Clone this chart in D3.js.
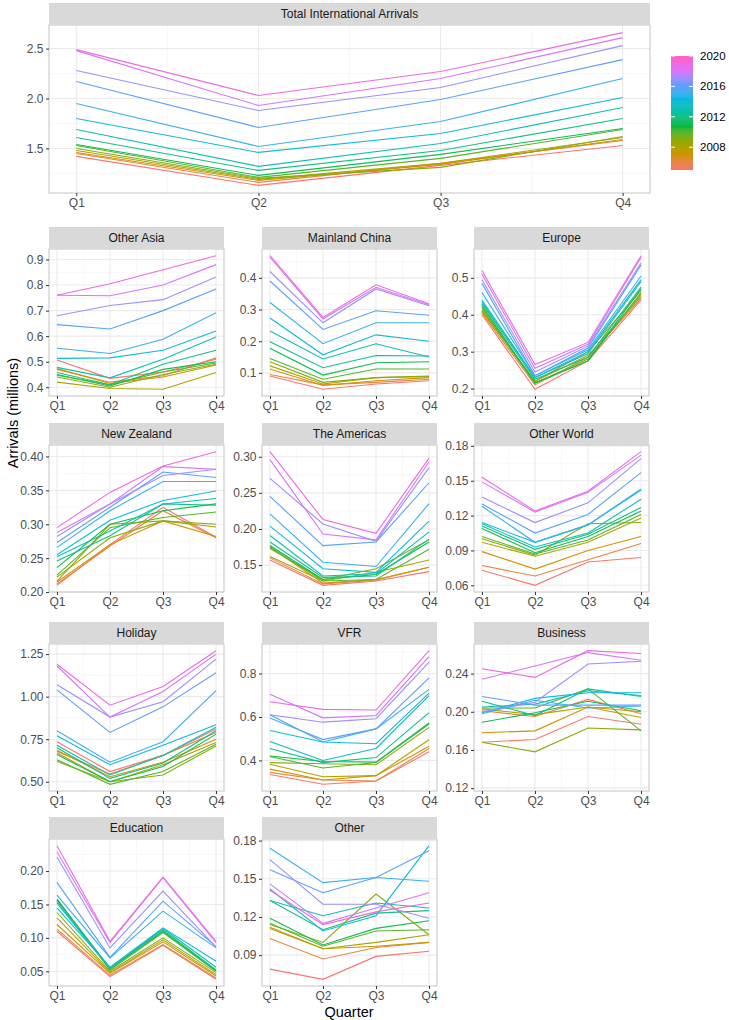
<!DOCTYPE html>
<html><head><meta charset="utf-8">
<script src="https://cdn.jsdelivr.net/npm/d3@7"></script>
<style>body{margin:0;background:#fff}text{font-family:"Liberation Sans",Arial,Helvetica,sans-serif}</style>
</head><body><svg id="c" width="729" height="1020"></svg>
<script>
const years = d3.range(2005, 2020);          // complete seasonal years drawn as lines
const colourYears = [2005, 2020];            // colour-bar range (2020 has only Q1)
const quarters = ["Q1","Q2","Q3","Q4"];
const legendTicks = [2008, 2012, 2016, 2020];

// each row = one year (2005..2019), values Q1..Q4 (millions)
const totalArrivals = [
[1.42,1.13,1.33,1.53],[1.45,1.16,1.35,1.58],[1.46,1.18,1.34,1.59],[1.48,1.19,1.35,1.61],
[1.50,1.20,1.31,1.62],[1.53,1.21,1.40,1.69],[1.54,1.23,1.44,1.70],[1.61,1.28,1.48,1.80],
[1.69,1.32,1.55,1.91],[1.80,1.46,1.65,2.01],[1.95,1.52,1.77,2.20],[2.17,1.71,1.99,2.39],
[2.28,1.88,2.11,2.53],[2.48,1.93,2.20,2.61],[2.49,2.03,2.27,2.66]];
const otherAsia = [
[0.507,0.435,0.46,0.51],[0.47,0.42,0.445,0.515],[0.473,0.415,0.44,0.487],[0.42,0.395,0.392,0.458],
[0.44,0.40,0.45,0.49],[0.447,0.41,0.46,0.495],[0.45,0.405,0.47,0.50],[0.458,0.41,0.49,0.545],
[0.478,0.437,0.51,0.597],[0.513,0.515,0.545,0.62],[0.553,0.532,0.588,0.692],[0.645,0.628,0.70,0.785],
[0.68,0.72,0.743,0.832],[0.76,0.758,0.80,0.88],[0.76,0.805,0.86,0.915]];
const mainlandChina = [
[0.09,0.048,0.065,0.075],[0.095,0.062,0.07,0.08],[0.112,0.06,0.075,0.085],[0.122,0.065,0.085,0.088],
[0.135,0.07,0.085,0.09],[0.145,0.08,0.112,0.112],[0.178,0.093,0.132,0.135],[0.198,0.116,0.155,0.153],
[0.232,0.144,0.192,0.15],[0.273,0.157,0.22,0.20],[0.322,0.192,0.258,0.258],[0.39,0.237,0.296,0.282],
[0.42,0.258,0.365,0.312],[0.465,0.27,0.37,0.315],[0.47,0.275,0.378,0.318]];
const europe = [
[0.40,0.198,0.275,0.44],[0.405,0.21,0.285,0.445],[0.41,0.22,0.30,0.465],[0.41,0.22,0.29,0.45],
[0.415,0.215,0.28,0.455],[0.42,0.215,0.275,0.46],[0.425,0.215,0.275,0.47],[0.43,0.225,0.285,0.475],
[0.435,0.23,0.295,0.49],[0.44,0.23,0.30,0.495],[0.46,0.235,0.305,0.505],[0.485,0.235,0.31,0.535],
[0.495,0.245,0.315,0.54],[0.51,0.255,0.32,0.555],[0.52,0.265,0.325,0.56]];
const newZealand = [
[0.21,0.27,0.325,0.281],[0.212,0.268,0.32,0.28],[0.215,0.27,0.305,0.282],[0.216,0.30,0.305,0.296],
[0.222,0.28,0.305,0.30],[0.225,0.295,0.31,0.318],[0.236,0.30,0.32,0.33],[0.246,0.283,0.33,0.328],
[0.252,0.29,0.33,0.338],[0.255,0.306,0.335,0.349],[0.266,0.32,0.363,0.363],[0.273,0.325,0.377,0.369],
[0.282,0.33,0.372,0.381],[0.288,0.33,0.385,0.381],[0.295,0.347,0.386,0.407]];
const theAmericas = [
[0.157,0.122,0.128,0.141],[0.16,0.124,0.129,0.147],[0.175,0.125,0.13,0.147],[0.162,0.128,0.14,0.157],
[0.173,0.13,0.145,0.185],[0.175,0.128,0.13,0.172],[0.177,0.13,0.137,0.182],[0.182,0.133,0.135,0.186],
[0.191,0.135,0.138,0.196],[0.204,0.145,0.14,0.211],[0.221,0.154,0.148,0.235],[0.245,0.177,0.182,0.264],
[0.27,0.207,0.183,0.285],[0.296,0.193,0.185,0.293],[0.307,0.213,0.194,0.298]];
const otherWorld = [
[0.073,0.060,0.080,0.084],[0.077,0.068,0.082,0.096],[0.089,0.074,0.090,0.102],[0.097,0.085,0.097,0.118],
[0.100,0.086,0.113,0.114],[0.102,0.087,0.099,0.121],[0.109,0.088,0.102,0.124],[0.111,0.091,0.104,0.127],
[0.113,0.093,0.105,0.134],[0.114,0.097,0.112,0.142],[0.128,0.097,0.112,0.143],[0.130,0.105,0.121,0.157],
[0.136,0.114,0.131,0.169],[0.149,0.123,0.140,0.172],[0.153,0.124,0.141,0.175]];
const holiday = [
[0.735,0.56,0.655,0.81],[0.68,0.545,0.655,0.79],[0.685,0.53,0.615,0.75],[0.67,0.50,0.60,0.73],
[0.62,0.50,0.54,0.71],[0.63,0.485,0.56,0.72],[0.66,0.50,0.59,0.78],[0.70,0.52,0.61,0.80],
[0.715,0.54,0.655,0.82],[0.77,0.60,0.715,0.835],[0.80,0.615,0.735,1.035],[1.04,0.79,0.94,1.14],
[1.07,0.88,0.97,1.22],[1.18,0.88,1.03,1.25],[1.19,0.95,1.06,1.27]];
const vfr = [
[0.335,0.29,0.305,0.44],[0.345,0.31,0.305,0.455],[0.36,0.31,0.33,0.465],[0.382,0.325,0.33,0.495],
[0.39,0.385,0.38,0.552],[0.418,0.365,0.39,0.567],[0.42,0.395,0.392,0.572],[0.455,0.39,0.413,0.62],
[0.487,0.40,0.455,0.698],[0.538,0.485,0.477,0.71],[0.61,0.485,0.545,0.727],[0.595,0.496,0.545,0.78],
[0.61,0.576,0.592,0.852],[0.705,0.596,0.607,0.878],[0.67,0.635,0.632,0.905]];
const business = [
[0.168,0.171,0.195,0.187],[0.201,0.195,0.213,0.198],[0.178,0.180,0.205,0.194],[0.203,0.197,0.205,0.200],
[0.168,0.158,0.183,0.181],[0.204,0.204,0.224,0.180],[0.189,0.199,0.211,0.201],[0.211,0.196,0.224,0.216],
[0.205,0.208,0.222,0.217],[0.199,0.214,0.220,0.220],[0.198,0.212,0.204,0.206],[0.216,0.207,0.207,0.207],
[0.200,0.210,0.250,0.253],[0.234,0.248,0.262,0.254],[0.245,0.236,0.264,0.261]];
const education = [
[0.11,0.042,0.089,0.038],[0.113,0.044,0.09,0.04],[0.12,0.047,0.094,0.043],[0.13,0.048,0.097,0.045],
[0.138,0.05,0.10,0.048],[0.157,0.052,0.108,0.05],[0.158,0.054,0.11,0.051],[0.155,0.055,0.112,0.052],
[0.152,0.054,0.114,0.056],[0.145,0.056,0.115,0.065],[0.164,0.07,0.14,0.085],[0.183,0.071,0.155,0.087],
[0.221,0.085,0.17,0.086],[0.229,0.093,0.19,0.093],[0.238,0.095,0.191,0.095]];
const otherPurpose = [
[0.079,0.071,0.089,0.093],[0.103,0.087,0.096,0.100],[0.111,0.095,0.097,0.100],[0.112,0.095,0.100,0.106],
[0.114,0.100,0.138,0.106],[0.115,0.097,0.109,0.110],[0.119,0.098,0.111,0.117],[0.133,0.110,0.123,0.125],
[0.133,0.121,0.131,0.127],[0.142,0.109,0.121,0.176],[0.174,0.147,0.151,0.148],[0.157,0.139,0.151,0.172],
[0.165,0.130,0.130,0.119],[0.146,0.115,0.127,0.139],[0.141,0.114,0.124,0.131]];
// 2020 has a single Q1 observation (no line drawn); only the Business one falls outside the lines' range
const partial2020Q1 = {"Business": 0.124};

const tickTotal = ["1.5","2.0","2.5"];
const tickOtherAsia = ["0.4","0.5","0.6","0.7","0.8","0.9"];
const tickChina = ["0.1","0.2","0.3","0.4"];
const tickEurope = ["0.2","0.3","0.4","0.5"];
const tickNZ = ["0.20","0.25","0.30","0.35","0.40"];
const tickAmericas = ["0.15","0.20","0.25","0.30"];
const tickOtherWorld = ["0.06","0.09","0.12","0.15","0.18"];
const tickHoliday = ["0.50","0.75","1.00","1.25"];
const tickVFR = ["0.4","0.6","0.8"];
const tickBusiness = ["0.12","0.16","0.20","0.24"];
const tickEducation = ["0.05","0.10","0.15","0.20"];
const tickOther = ["0.09","0.12","0.15","0.18"];

const small = [
 ["Other Asia", otherAsia, tickOtherAsia],
 ["Mainland China", mainlandChina, tickChina],
 ["Europe", europe, tickEurope],
 ["New Zealand", newZealand, tickNZ],
 ["The Americas", theAmericas, tickAmericas],
 ["Other World", otherWorld, tickOtherWorld],
 ["Holiday", holiday, tickHoliday],
 ["VFR", vfr, tickVFR],
 ["Business", business, tickBusiness],
 ["Education", education, tickEducation],
 ["Other", otherPurpose, tickOther]
];

const hues = ["#F8766D","#D39200","#93AA00","#00BA38","#00C19F","#00B9E3","#619CFF","#DB72FB","#FF61C3"];
const [yMin, yMax] = colourYears;
const color = d3.scaleLinear()
  .domain(hues.map((_, i) => yMin + (yMax - yMin) * i / (hues.length - 1)))
  .range(hues).interpolate(d3.interpolateLab);

const svg = d3.select("#c");
const FS = 12;

function drawPanel(x0, x1, sy, sh, bottom, title, data, tickLabels) {
  const py0 = sy + sh;
  const all = data.flat();
  if (partial2020Q1[title] !== undefined) all.push(partial2020Q1[title]);
  const [mn, mx] = d3.extent(all), r = mx - mn;
  const y = d3.scaleLinear().domain([mn - 0.05 * r, mx + 0.05 * r]).range([bottom, py0]);
  const x = d3.scaleLinear().domain([0.85, 4.15]).range([x0, x1]);
  const g = svg.append("g");
  const tv = tickLabels.map(Number);
  const step = tv[1] - tv[0];
  g.append("rect").attr("x", x0).attr("y", py0).attr("width", x1 - x0).attr("height", bottom - py0).attr("fill", "#fff");
  const [d0, d1] = y.domain();
  const minors = [];
  for (let v = tv[0] - step / 2; v <= d1; v += step) if (v >= d0) minors.push(v);
  g.selectAll(".mny").data(minors).join("line")
    .attr("x1", x0).attr("x2", x1).attr("y1", d => y(d)).attr("y2", d => y(d))
    .attr("stroke", "#F2F2F2").attr("stroke-width", 0.6);
  g.selectAll(".mnx").data([1.5, 2.5, 3.5]).join("line")
    .attr("y1", py0).attr("y2", bottom).attr("x1", d => x(d)).attr("x2", d => x(d))
    .attr("stroke", "#F2F2F2").attr("stroke-width", 0.6);
  g.selectAll(".mjy").data(tv).join("line")
    .attr("x1", x0).attr("x2", x1).attr("y1", d => y(d)).attr("y2", d => y(d))
    .attr("stroke", "#EBEBEB").attr("stroke-width", 1.1);
  g.selectAll(".mjx").data([1, 2, 3, 4]).join("line")
    .attr("y1", py0).attr("y2", bottom).attr("x1", d => x(d)).attr("x2", d => x(d))
    .attr("stroke", "#EBEBEB").attr("stroke-width", 1.1);
  const line = d3.line().x((d, i) => x(i + 1)).y(d => y(d));
  const series = data.map((v, i) => ({year: years[i], v}));
  if (partial2020Q1[title] !== undefined) series.push({year: 2020, v: [partial2020Q1[title]]});
  g.selectAll(".ln").data(series).join("path")
    .attr("d", d => line(d.v)).attr("fill", "none")
    .attr("stroke", d => color(d.year)).attr("stroke-width", 1.1);
  g.append("rect").attr("x", x0).attr("y", py0).attr("width", x1 - x0).attr("height", bottom - py0)
    .attr("fill", "none").attr("stroke", "#C4C4C4").attr("stroke-width", 1);
  g.append("rect").attr("x", x0).attr("y", sy).attr("width", x1 - x0).attr("height", sh).attr("fill", "#D9D9D9");
  g.append("text").attr("x", (x0 + x1) / 2).attr("y", sy + sh / 2).attr("dy", "0.35em")
    .attr("text-anchor", "middle").attr("font-size", FS).attr("fill", "#1A1A1A").text(title);
  const ay = g.append("g").attr("transform", `translate(${x0},0)`)
    .call(d3.axisLeft(y).tickValues(tv).tickSize(3).tickPadding(2.5).tickFormat((d, i) => tickLabels[i]));
  const ax = g.append("g").attr("transform", `translate(0,${bottom})`)
    .call(d3.axisBottom(x).tickValues([1, 2, 3, 4]).tickSize(3).tickPadding(2.5).tickFormat(d => quarters[d - 1]));
  [ay, ax].forEach(a => {
    a.select(".domain").remove();
    a.selectAll("line").attr("stroke", "#333").attr("stroke-width", 1);
    a.selectAll("text").attr("font-size", FS).attr("fill", "#4D4D4D").attr("font-family", '"Liberation Sans",Arial,sans-serif');
  });
}

drawPanel(49, 650, 3, 22, 193, "Total International Arrivals", totalArrivals, tickTotal);

const colX = [49, 262, 474], pw = 175;
const rowY = [227, 423, 622, 817], sh = 22, ph = 147;
small.forEach((p, i) => {
  const c = i % 3, r = Math.floor(i / 3);
  drawPanel(colX[c], colX[c] + pw, rowY[r], sh, rowY[r] + sh + ph, p[0], p[1], p[2]);
});

svg.append("text").attr("x", 349).attr("y", 1012).attr("dy", "0.35em").attr("text-anchor", "middle")
  .attr("font-size", 14.5).attr("fill", "#000").text("Quarter");
svg.append("text").attr("transform", "translate(13,413) rotate(-90)").attr("dy", "0.35em")
  .attr("text-anchor", "middle").attr("font-size", 14.5).attr("fill", "#000").text("Arrivals (millions)");

const lb = {x: 671, w: 22, top: 56, bottom: 170};
const ly = d3.scaleLinear().domain([yMin, yMax]).range([lb.bottom, lb.top]);
const defs = svg.append("defs");
const grad = defs.append("linearGradient").attr("id", "lg").attr("x1", 0).attr("x2", 0).attr("y1", 1).attr("y2", 0);
d3.range(0, 1.0001, 0.02).forEach(t => grad.append("stop").attr("offset", t).attr("stop-color", color(yMin + t * (yMax - yMin))));
svg.append("rect").attr("x", lb.x).attr("y", lb.top).attr("width", lb.w).attr("height", lb.bottom - lb.top).attr("fill", "url(#lg)");
legendTicks.forEach(t => {
  svg.append("line").attr("x1", lb.x).attr("x2", lb.x + 4).attr("y1", ly(t)).attr("y2", ly(t)).attr("stroke", "#fff").attr("stroke-width", 1);
  svg.append("line").attr("x1", lb.x + lb.w - 4).attr("x2", lb.x + lb.w).attr("y1", ly(t)).attr("y2", ly(t)).attr("stroke", "#fff").attr("stroke-width", 1);
  svg.append("text").attr("x", 700).attr("y", ly(t)).attr("dy", "0.35em").attr("font-size", 11.5).attr("fill", "#000").text(t);
});
</script></body></html>
